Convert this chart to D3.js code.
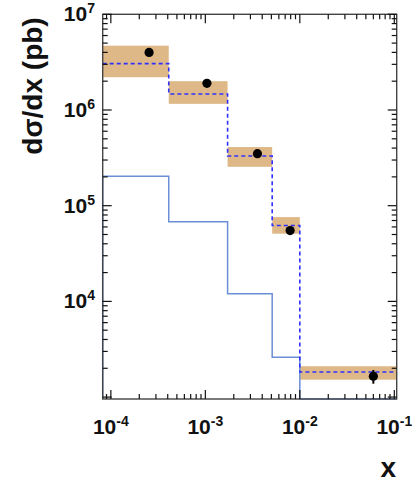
<!DOCTYPE html>
<html>
<head>
<meta charset="utf-8">
<script src="https://cdn.jsdelivr.net/npm/d3@7"></script>
<style>
  body { margin: 0; background: #fff; }
  svg { display: block; font-family: "Liberation Sans", Arial, sans-serif; font-weight: bold; }
</style>
</head>
<body>
<script>
// bins in x (edges) and values
const binEdges = [8.2e-5, 4.1e-4, 1.72e-3, 5.1e-3, 1.0e-2, 0.106];
const bandLow  = [2.2e6, 1.16e6, 2.55e5, 5.1e4, 1520];
const bandHigh = [4.7e6, 2.0e6, 4.1e5, 7.6e4, 2100];
const theory   = [3.05e6, 1.47e6, 3.3e5, 6.2e4, 1830];
const other    = [2.03e5, 6.8e4, 1.2e4, 2600, 900];
const dataX    = [2.54e-4, 1.04e-3, 3.56e-3, 7.9e-3, 0.060];
const dataY    = [4.0e6, 1.9e6, 3.5e5, 5.5e4, 1650];
const dataErr  = [1.2e5, 6e4, 1.5e4, 3e3, 270];
const xTickExp = [-4, -3, -2, -1];
const yTickExp = [4, 5, 6, 7];

const width = 412, height = 482;
const svg = d3.select("body").append("svg")
    .attr("width", width)
    .attr("height", height);

const x = d3.scaleLog().domain([8.2e-5, 0.106]).range([102.7, 396.7]);
const y = d3.scaleLog().domain([955, 1e7]).range([399, 14.3]).clamp(true);

// uncertainty bands
svg.append("g")
    .selectAll("rect")
    .data(bandLow)
    .enter()
    .append("rect")
    .attr("x", (d, i) => x(binEdges[i]))
    .attr("width", (d, i) => x(binEdges[i + 1]) - x(binEdges[i]))
    .attr("y", (d, i) => y(bandHigh[i]))
    .attr("height", (d, i) => y(d) - y(bandHigh[i]))
    .attr("fill", "#dfb887");

// step path helper
function steps(vals, fromBase) {
    let p = d3.path();
    if (fromBase) {
        p.moveTo(x(binEdges[0]), y.range()[0]);
        p.lineTo(x(binEdges[0]), y(vals[0]));
    } else {
        p.moveTo(x(binEdges[0]), y(vals[0]));
    }
    vals.forEach((v, i) => {
        p.lineTo(x(binEdges[i]), y(v));
        p.lineTo(x(binEdges[i + 1]), y(v));
    });
    return p.toString();
}

svg.append("path")
    .attr("d", steps(other, true))
    .attr("fill", "none")
    .attr("stroke", "#6b8fd6")
    .attr("stroke-width", 1.5);

svg.append("path")
    .attr("d", steps(theory, false))
    .attr("fill", "none")
    .attr("stroke", "#3030ff")
    .attr("stroke-width", 1.6)
    .attr("stroke-dasharray", "4,3");

// frame
svg.append("rect")
    .attr("x", x.range()[0])
    .attr("y", y.range()[1])
    .attr("width", x.range()[1] - x.range()[0])
    .attr("height", y.range()[0] - y.range()[1])
    .attr("fill", "none")
    .attr("stroke", "#444")
    .attr("stroke-width", 1.4);

// ticks on all four sides, ROOT style
function logTicks(dom) {
    const out = [];
    const lo = Math.floor(Math.log10(dom[0])), hi = Math.ceil(Math.log10(dom[1]));
    for (let e = lo; e <= hi; e++) {
        for (let m = 1; m < 10; m++) {
            const v = m * Math.pow(10, e);
            if (v >= dom[0] * 0.999 && v <= dom[1] * 1.001) out.push({ v, major: m === 1 });
        }
    }
    return out;
}
const tg = svg.append("g").attr("stroke", "#111").attr("stroke-width", 1.2);
logTicks(x.domain()).forEach(t => {
    const len = t.major ? 9 : 5;
    const px = x(t.v);
    tg.append("line").attr("x1", px).attr("x2", px).attr("y1", y.range()[0]).attr("y2", y.range()[0] - len);
    tg.append("line").attr("x1", px).attr("x2", px).attr("y1", y.range()[1]).attr("y2", y.range()[1] + len);
});
logTicks(y.domain()).forEach(t => {
    const len = t.major ? 9 : 5;
    const py = y(t.v);
    tg.append("line").attr("y1", py).attr("y2", py).attr("x1", x.range()[0]).attr("x2", x.range()[0] + len);
    tg.append("line").attr("y1", py).attr("y2", py).attr("x1", x.range()[1]).attr("x2", x.range()[1] - len);
});

// data points with error bars
const pts = svg.append("g");
pts.selectAll("line")
    .data(dataY)
    .enter()
    .append("line")
    .attr("x1", (d, i) => x(dataX[i]))
    .attr("x2", (d, i) => x(dataX[i]))
    .attr("y1", (d, i) => y(d + dataErr[i]))
    .attr("y2", (d, i) => y(d - dataErr[i]))
    .attr("stroke", "#000")
    .attr("stroke-width", 2);
pts.selectAll("circle")
    .data(dataY)
    .enter()
    .append("circle")
    .attr("cx", (d, i) => x(dataX[i]))
    .attr("cy", d => y(d))
    .attr("r", 4.6)
    .attr("fill", "#000");

// tick labels
const xl = svg.append("g")
    .selectAll("text")
    .data(xTickExp)
    .enter()
    .append("text")
    .attr("x", d => x(Math.pow(10, d)))
    .attr("y", 434)
    .attr("text-anchor", "middle")
    .attr("font-size", 21)
    .attr("fill", "#111");
xl.append("tspan").text("10");
xl.append("tspan").attr("dy", -8).attr("font-size", 14).text(d => d);

const yl = svg.append("g")
    .selectAll("text")
    .data(yTickExp)
    .enter()
    .append("text")
    .attr("x", 95)
    .attr("y", d => y(Math.pow(10, d)) + 7)
    .attr("text-anchor", "end")
    .attr("font-size", 21)
    .attr("fill", "#111");
yl.append("tspan").text("10");
yl.append("tspan").attr("dy", -8).attr("font-size", 14).text(d => d);

// axis titles
svg.append("text")
    .attr("transform", "translate(42,86) rotate(-90)")
    .attr("text-anchor", "middle")
    .attr("font-size", 28)
    .attr("fill", "#111")
    .text("dσ/dx (pb)");

svg.append("text")
    .attr("x", 396)
    .attr("y", 477)
    .attr("text-anchor", "end")
    .attr("font-size", 28)
    .attr("fill", "#111")
    .text("x");
</script>
</body>
</html>
